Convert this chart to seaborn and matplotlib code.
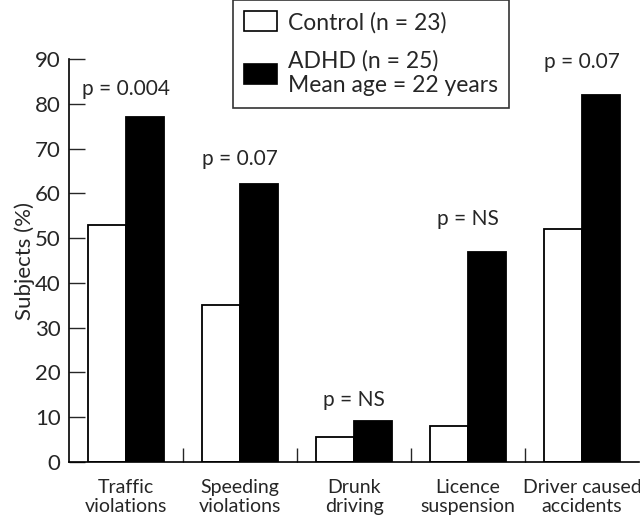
import matplotlib.pyplot as plt
import numpy as np
import pandas as pd
import seaborn as sns
from matplotlib.patches import Patch

categories = ["Traffic\nviolations", "Speeding\nviolations", "Drunk\ndriving",
              "Licence\nsuspension", "Driver caused\naccidents"]
control = [53, 35, 5.5, 8, 52]
adhd = [77, 62, 9.2, 47, 82]
p_labels = ["p = 0.004", "p = 0.07", "p = NS", "p = NS", "p = 0.07"]
p_heights = [83.2, 67.6, 13.8, 54.3, 89.3]

df = pd.DataFrame({
    "category": categories * 2,
    "value": control + adhd,
    "group": ["Control"] * 5 + ["ADHD"] * 5,
})

sns.set_style("white")
plt.rcParams["font.family"] = ["Lato", "DejaVu Sans"]

fig = plt.figure(figsize=(6.4, 5.19), dpi=100)
ax = fig.add_axes([69 / 640, 1 - 462 / 519, 570 / 640, (462 - 59) / 519])

sns.barplot(data=df, x="category", y="value", hue="group",
            palette={"Control": "white", "ADHD": "black"},
            edgecolor="black", linewidth=1.3, width=2 / 3, gap=0,
            legend=False, ax=ax)

for i, (lab, h) in enumerate(zip(p_labels, p_heights)):
    ax.text(i, h, lab, ha="center", va="center", fontsize=15, clip_on=False)

ax.set_xlim(-0.5, 4.5)
ax.set_ylim(0, 90)
ax.set_yticks(np.arange(0, 91, 10))
ax.set_xlabel("")
ax.set_ylabel("Subjects (%)", fontsize=16, labelpad=0)
ax.tick_params(axis="y", direction="in", length=11.5, width=1, labelsize=16,
               left=True, pad=6)
ax.tick_params(axis="x", which="major", length=0, labelsize=14, pad=12)
for t in ax.get_xticklabels():
    t.set_linespacing(1.15)
ax.set_xticks([0.5, 1.5, 2.5, 3.5], minor=True)
ax.tick_params(axis="x", which="minor", direction="in", length=10, width=1,
               bottom=True)
sns.despine(ax=ax)
for s in ["left", "bottom"]:
    ax.spines[s].set_color("black")
    ax.spines[s].set_linewidth(1.2)

handles = [Patch(facecolor="white", edgecolor="black", linewidth=1.2),
           Patch(facecolor="black", edgecolor="black", linewidth=1.2)]
leg = fig.legend(handles, ["Control (n = 23)", "ADHD (n = 25)\nMean age = 22 years"],
                 loc="upper left", bbox_to_anchor=(233 / 640, 1.0),
                 borderaxespad=0, fontsize=16.5, frameon=True, fancybox=False,
                 handlelength=1.4, handleheight=0.95, handletextpad=0.5,
                 labelspacing=0.75, borderpad=0.5)
leg.get_frame().set_edgecolor("black")
leg.get_frame().set_linewidth(1.2)

fig.savefig("out.png", dpi=100)
